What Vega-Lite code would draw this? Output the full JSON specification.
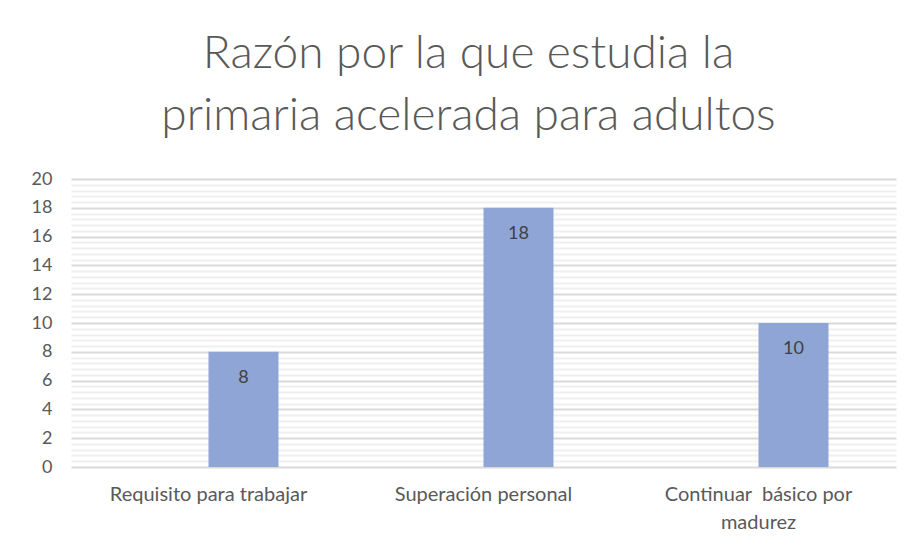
{
  "$schema": "https://vega.github.io/schema/vega-lite/v6.json",
  "width": 825,
  "height": 288,
  "autosize": {"type": "none"},
  "padding": {"left": 71, "top": 179, "right": 16, "bottom": 85},
  "background": "white",
  "title": {
    "text": ["Razón por la que estudia la", "primaria acelerada para adultos"],
    "font": "Lato",
    "fontWeight": 300,
    "fontSize": 46,
    "lineHeight": 62,
    "color": "#595959",
    "anchor": "middle",
    "dx": -15,
    "offset": 30
  },
  "data": {
    "values": [
      {"razon": "Requisito para trabajar", "serie": "b", "n": 8},
      {"razon": "Superación personal", "serie": "b", "n": 18},
      {"razon": "Continuar  básico por madurez", "serie": "b", "n": 10}
    ]
  },
  "encoding": {
    "x": {
      "field": "razon",
      "type": "nominal",
      "sort": null,
      "scale": {"paddingInner": 0.491, "paddingOuter": 0.2455},
      "axis": {
        "title": null,
        "labelAngle": 0,
        "labelFont": "Lato",
        "labelFontSize": 20,
        "labelColor": "#595959",
        "labelPadding": 17,
        "labelLineHeight": 28,
        "labelLimit": 300,
        "domain": false,
        "ticks": false,
        "labelExpr": "datum.label == 'Continuar  básico por madurez' ? ['Continuar\u00a0 básico por', 'madurez'] : datum.label"
      }
    },
    "xOffset": {
      "field": "serie",
      "type": "nominal",
      "scale": {"domain": ["a", "b"], "paddingInner": 0, "paddingOuter": 0}
    },
    "y": {
      "field": "n",
      "type": "quantitative",
      "scale": {"domain": [0, 20], "nice": false},
      "axis": {
        "title": null,
        "values": [0, 0.4, 0.8, 1.2, 1.6, 2, 2.4, 2.8, 3.2, 3.6, 4, 4.4, 4.8, 5.2, 5.6, 6, 6.4, 6.8, 7.2, 7.6, 8, 8.4, 8.8, 9.2, 9.6, 10, 10.4, 10.8, 11.2, 11.6, 12, 12.4, 12.8, 13.2, 13.6, 14, 14.4, 14.8, 15.2, 15.6, 16, 16.4, 16.8, 17.2, 17.6, 18, 18.4, 18.8, 19.2, 19.6, 20],
        "labelExpr": "datum.value % 2 === 0 ? format(datum.value, 'd') : ''",
        "labelOverlap": false,
        "labelFont": "Lato",
        "labelFontSize": 18,
        "labelColor": "#595959",
        "labelPadding": 19,
        "domain": false,
        "ticks": false,
        "grid": true,
        "gridColor": {"condition": {"test": "datum.value % 2 === 0", "value": "#d9d9d9"}, "value": "#efefef"},
        "gridWidth": 2
      }
    }
  },
  "layer": [
    {"mark": {"type": "bar", "color": "#8FA5D6"}},
    {
      "mark": {"type": "text", "baseline": "middle", "dy": 26, "font": "Lato", "fontSize": 18, "color": "#404040"},
      "encoding": {"text": {"field": "n", "type": "quantitative"}}
    }
  ],
  "config": {"view": {"stroke": null}}
}
